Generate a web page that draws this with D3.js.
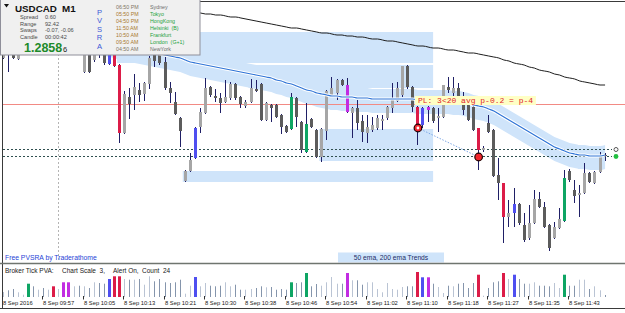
<!DOCTYPE html>
<html>
<head>
<meta charset="utf-8">
<script src="https://cdn.jsdelivr.net/npm/d3@7/dist/d3.min.js"></script>
<style>
html,body{margin:0;padding:0;background:#ffffff;}
svg{display:block;}
text{font-family:"Liberation Sans",Arial,sans-serif;white-space:pre;}
</style>
</head>
<body>
<svg id="chart" width="625" height="313"></svg>
<script>
// ---------------- DATA ----------------
const symbol = "USDCAD";
const timeframe = "M1";
const openP = [
1.28684,1.28702,1.28694,1.28683,1.28697,1.28698,1.28720,1.28712,1.28717,1.28709,
1.28714,1.28697,1.28702,1.28694,1.28689,1.28697,1.28670,1.28690,1.28682,1.28694,
1.28692,1.28678,1.28697,1.28677,1.28609,1.28645,1.28647,1.28652,1.28648,1.28658,
1.28692,1.28690,1.28680,1.28654,1.28640,1.28624,1.28561,1.28571,1.28584,1.28615,
1.28629,1.28655,1.28646,1.28644,1.28640,1.28644,1.28658,1.28645,1.28636,1.28640,
1.28653,1.28658,1.28622,1.28637,1.28637,1.28627,1.28616,1.28613,1.28644,1.28620,
1.28590,1.28623,1.28612,1.28585,1.28611,1.28647,1.28649,1.28662,1.28657,1.28629,
1.28634,1.28621,1.28609,1.28612,1.28614,1.28621,1.28624,1.28634,1.28641,1.28647,
1.28676,1.28655,1.28635,1.28617,1.28635,1.28634,1.28624,1.28625,1.28655,1.28649,
1.28654,1.28645,1.28640,1.28635,1.28614,1.28592,1.28619,1.28612,1.28567,1.28559,
1.28525,1.28529,1.28538,1.28517,1.28504,1.28519,1.28543,1.28535,1.28517,1.28504,
1.28514,1.28521,1.28571,1.28552,1.28547,1.28549,1.28569,1.28559,1.28570,1.28587];
const highP = [
1.28706,1.28707,1.28698,1.28702,1.28709,1.28724,1.28722,1.28720,1.28720,1.28717,
1.28716,1.28705,1.28704,1.28697,1.28700,1.28699,1.28694,1.28694,1.28697,1.28698,
1.28696,1.28700,1.28698,1.28678,1.28651,1.28654,1.28668,1.28659,1.28660,1.28686,
1.28695,1.28692,1.28685,1.28660,1.28650,1.28625,1.28572,1.28589,1.28615,1.28634,
1.28664,1.28656,1.28653,1.28649,1.28662,1.28660,1.28659,1.28646,1.28642,1.28663,
1.28662,1.28659,1.28640,1.28638,1.28638,1.28628,1.28617,1.28649,1.28645,1.28621,
1.28639,1.28624,1.28613,1.28614,1.28652,1.28665,1.28663,1.28663,1.28664,1.28635,
1.28642,1.28627,1.28627,1.28625,1.28627,1.28627,1.28636,1.28659,1.28660,1.28676,
1.28677,1.28656,1.28636,1.28635,1.28636,1.28635,1.28634,1.28657,1.28665,1.28665,
1.28659,1.28650,1.28644,1.28640,1.28614,1.28596,1.28627,1.28613,1.28584,1.28559,
1.28542,1.28554,1.28539,1.28529,1.28537,1.28552,1.28550,1.28540,1.28518,1.28520,
1.28534,1.28572,1.28573,1.28562,1.28557,1.28579,1.28570,1.28571,1.28590,1.28589];
const lowP = [
1.28683,1.28670,1.28683,1.28682,1.28694,1.28696,1.28709,1.28708,1.28706,1.28706,
1.28694,1.28694,1.28690,1.28688,1.28688,1.28689,1.28669,1.28669,1.28680,1.28684,
1.28677,1.28677,1.28675,1.28599,1.28608,1.28623,1.28632,1.28640,1.28641,1.28653,
1.28675,1.28677,1.28652,1.28639,1.28627,1.28595,1.28560,1.28570,1.28583,1.28609,
1.28628,1.28645,1.28640,1.28629,1.28639,1.28642,1.28642,1.28634,1.28634,1.28639,
1.28650,1.28621,1.28621,1.28620,1.28624,1.28608,1.28609,1.28612,1.28615,1.28589,
1.28589,1.28614,1.28584,1.28580,1.28602,1.28646,1.28642,1.28656,1.28629,1.28604,
1.28612,1.28600,1.28599,1.28610,1.28612,1.28612,1.28622,1.28629,1.28640,1.28645,
1.28653,1.28630,1.28597,1.28614,1.28620,1.28619,1.28610,1.28624,1.28649,1.28645,
1.28642,1.28627,1.28621,1.28611,1.28572,1.28590,1.28609,1.28565,1.28542,1.28499,
1.28515,1.28515,1.28517,1.28500,1.28502,1.28518,1.28534,1.28514,1.28491,1.28503,
1.28513,1.28520,1.28560,1.28539,1.28525,1.28548,1.28559,1.28558,1.28569,1.28581];
const closeP = [
1.28702,1.28692,1.28684,1.28697,1.28704,1.28720,1.28712,1.28717,1.28709,1.28714,
1.28697,1.28702,1.28692,1.28689,1.28697,1.28692,1.28690,1.28670,1.28692,1.28687,
1.28679,1.28697,1.28676,1.28609,1.28648,1.28638,1.28655,1.28647,1.28659,1.28684,
1.28681,1.28679,1.28654,1.28649,1.28628,1.28611,1.28571,1.28582,1.28614,1.28630,
1.28654,1.28647,1.28644,1.28639,1.28645,1.28658,1.28644,1.28638,1.28640,1.28654,
1.28651,1.28622,1.28639,1.28634,1.28625,1.28615,1.28610,1.28645,1.28625,1.28592,
1.28618,1.28615,1.28585,1.28613,1.28651,1.28654,1.28662,1.28657,1.28630,1.28634,
1.28619,1.28610,1.28615,1.28617,1.28624,1.28623,1.28635,1.28644,1.28654,1.28676,
1.28655,1.28635,1.28614,1.28634,1.28632,1.28621,1.28626,1.28657,1.28652,1.28654,
1.28644,1.28632,1.28622,1.28612,1.28592,1.28594,1.28610,1.28566,1.28559,1.28525,
1.28529,1.28538,1.28519,1.28502,1.28519,1.28543,1.28535,1.28515,1.28494,1.28515,
1.28523,1.28564,1.28562,1.28546,1.28549,1.28569,1.28560,1.28570,1.28586,1.28586];
const tickVolume = [
50,67,80,47,23,133,107,73,90,73,
107,80,147,147,107,113,107,90,147,140,
133,180,207,207,180,173,173,180,123,207,
157,180,147,140,147,173,33,113,200,107,
140,113,107,113,147,107,123,73,73,80,
90,107,97,100,73,80,73,147,140,147,
240,107,130,113,147,200,133,133,240,167,
167,123,147,147,80,47,140,80,73,100,
107,107,250,197,197,133,100,40,113,107,
133,140,90,140,223,13,90,147,157,240,
180,223,180,133,133,147,113,113,107,140,
90,223,113,113,173,173,80,107,67,20];
const ema50 = [
1.28714,1.28713,1.28713,1.28712,1.28712,1.28711,1.28711,1.28710,1.28710,1.28709,
1.28708,1.28708,1.28707,1.28706,1.28706,1.28705,1.28704,1.28703,1.28702,1.28701,
1.28700,1.28699,1.28698,1.28696,1.28695,1.28694,1.28693,1.28692,1.28691,1.28690,
1.28689,1.28688,1.28687,1.28686,1.28685,1.28684,1.28682,1.28680,1.28679,1.28678,
1.28677,1.28676,1.28675,1.28674,1.28673,1.28672,1.28671,1.28670,1.28669,1.28668,
1.28667,1.28666,1.28665,1.28664,1.28662,1.28661,1.28659,1.28658,1.28656,1.28654,
1.28652,1.28651,1.28649,1.28648,1.28647,1.28646,1.28646,1.28645,1.28645,1.28645,
1.28644,1.28644,1.28644,1.28643,1.28643,1.28643,1.28643,1.28643,1.28643,1.28643,
1.28643,1.28643,1.28642,1.28642,1.28642,1.28642,1.28642,1.28642,1.28642,1.28641,
1.28641,1.28640,1.28639,1.28637,1.28636,1.28635,1.28633,1.28631,1.28628,1.28625,
1.28622,1.28619,1.28616,1.28613,1.28610,1.28607,1.28604,1.28601,1.28598,1.28595,
1.28593,1.28591,1.28589,1.28588,1.28587,1.28587,1.28586,1.28586,1.28586,1.28587];
const ema200 = [
1.28740,1.28740,1.28739,1.28739,1.28739,1.28738,1.28738,1.28738,1.28737,1.28737,
1.28737,1.28736,1.28736,1.28736,1.28735,1.28735,1.28735,1.28734,1.28734,1.28734,
1.28733,1.28733,1.28733,1.28733,1.28732,1.28732,1.28732,1.28732,1.28731,1.28731,
1.28731,1.28731,1.28730,1.28730,1.28730,1.28730,1.28729,1.28729,1.28729,1.28729,
1.28728,1.28728,1.28727,1.28727,1.28726,1.28725,1.28725,1.28724,1.28723,1.28722,
1.28721,1.28720,1.28719,1.28718,1.28717,1.28716,1.28715,1.28714,1.28714,1.28713,
1.28712,1.28711,1.28710,1.28709,1.28709,1.28708,1.28707,1.28707,1.28706,1.28706,
1.28705,1.28705,1.28704,1.28703,1.28703,1.28702,1.28701,1.28701,1.28700,1.28699,
1.28698,1.28697,1.28696,1.28696,1.28695,1.28694,1.28694,1.28693,1.28692,1.28692,
1.28691,1.28690,1.28689,1.28689,1.28688,1.28687,1.28686,1.28685,1.28684,1.28682,
1.28681,1.28679,1.28678,1.28677,1.28675,1.28674,1.28672,1.28671,1.28670,1.28668,
1.28667,1.28665,1.28664,1.28663,1.28661,1.28660,1.28659,1.28658,1.28657,1.28657];
const climaxBars = [5,10,22,23,57,60,82,94,99,111];
const risingBars = [12,13,21,38,68,83,84,101];
const zoneStartBar = [23,49,63,36];
const zoneEndBar = [85,85,85,85];
const zoneHigh = [1.28710,1.28677,1.28613,1.28571];
const zoneLow  = [1.28679,1.28654,1.28581,1.28560];
const bandAbove = 0.00010;
const bandBelow = 0.00014;
const levelPrice = 1.28638;
const askPrice = 1.28593;
const bidPrice = 1.28586;
const separatorBar = 11;
const plBars = [82,94];
const plPrices = [1.28614,1.28585];
const plText = "PL: 3<20 avg p-0.2 = p-4";
const tickBars = [0,8,16,24,32,40,48,56,64,72,80,88,96,104,112];
const tickLabels = ["8 Sep 2016","8 Sep 09:57","8 Sep 10:05","8 Sep 10:13","8 Sep 10:21","8 Sep 10:30","8 Sep 10:38","8 Sep 10:46","8 Sep 10:54","8 Sep 11:02","8 Sep 11:10","8 Sep 11:18","8 Sep 11:27","8 Sep 11:35","8 Sep 11:43"];
const infoLabels = ["Spread","Range","Swaps","Candle"];
const infoValues = ["0.60","92.42","-0.07, -0.06","00:00:42"];
const sessionTimes = ["06:50 PM","05:50 PM","04:50 PM","11:50 AM","10:50 AM","09:50 AM","04:50 AM"];
const sessionCities = ["Sydney","Tokyo","HongKong","Helsinki  (B)","Frankfurt","London  (G+1)","NewYork"];
const sessionOpen = [false,true,true,true,true,true,false];
const bidMain = "1.2858";
const bidLast = "6";
const pvaTitle = ["Broker Tick PVA:","Chart Scale  3,","Alert On,","Count","24"];

// ---------------- DRAW ----------------
const N = openP.length;
const svg = d3.select("#chart");
svg.append("rect").attr("width",625).attr("height",313).attr("fill","#ffffff");

const x = d3.scaleBand().domain(d3.range(N)).range([0.67, 607.6]).padding(0);
const cx = i => x(i) + x.bandwidth()/2;
const px = i => Math.floor(cx(i));
const y = d3.scaleLinear().domain([1.28480, 1.28740]).range([262, 2]);
const yv = d3.scaleLinear().domain([0, 260]).range([297, 271]);

const defs = svg.append("defs");
defs.append("clipPath").attr("id","clipMain").append("rect").attr("x",3).attr("y",2).attr("width",622).attr("height",260);
const main = svg.append("g").attr("clip-path","url(#clipMain)");

const zoneFill = "#cfe4fa";
const band = d3.area().x((d,i)=>cx(i)).y0(d=>y(d - bandBelow)).y1(d=>y(d + bandAbove)).curve(d3.curveMonotoneX);
main.append("path").datum(ema50).attr("d",band).attr("fill",zoneFill);
main.selectAll("rect.zone").data(zoneStartBar).join("rect").attr("class","zone")
  .attr("x",(d)=>x(d)).attr("width",(d,i)=>cx(zoneEndBar[i]) - x(d))
  .attr("y",(d,i)=>y(zoneHigh[i])).attr("height",(d,i)=>y(zoneLow[i]) - y(zoneHigh[i]))
  .attr("fill",zoneFill);

main.append("line").attr("x1",px(separatorBar)+0.5).attr("x2",px(separatorBar)+0.5).attr("y1",2).attr("y2",262)
  .attr("stroke","#b4b4b4").attr("stroke-dasharray","2,2");
main.append("line").attr("x1",3).attr("x2",625).attr("y1",Math.round(y(levelPrice))+0.5).attr("y2",Math.round(y(levelPrice))+0.5)
  .attr("stroke","#f28a84").attr("stroke-width",1);
[askPrice,bidPrice].forEach(p=>{
  const yy = Math.round(y(p))+0.5;
  main.append("line").attr("x1",3).attr("x2",612).attr("y1",yy).attr("y2",yy)
    .attr("stroke","#2f4f4f").attr("stroke-dasharray","2,2");
});

function bodyColor(i){
  const bull = closeP[i] >= openP[i];
  if (climaxBars.includes(i)) return bull ? "#0ea564" : "#dc1c48";
  if (risingBars.includes(i)) return bull ? "#4f4ff0" : "#c22ce2";
  return bull ? "#a6a6a6" : "#5c5c5c";
}
const cg = main.append("g");
d3.range(N).forEach(i=>{
  const xx = px(i);
  cg.append("line").attr("x1",xx+0.5).attr("x2",xx+0.5).attr("y1",y(highP[i])).attr("y2",y(lowP[i]))
    .attr("stroke","#1f1f66").attr("stroke-width",1);
  const top = Math.min(y(openP[i]), y(closeP[i]));
  const h = Math.max(1, Math.abs(y(openP[i]) - y(closeP[i])));
  cg.append("rect").attr("x",xx-1).attr("width",3).attr("y",top).attr("height",h).attr("fill",bodyColor(i));
});

const lineGen = d3.line().x((d,i)=>cx(i)).y(d=>y(d)).curve(d3.curveMonotoneX);
main.append("path").datum(ema200).attr("d",lineGen).attr("fill","none").attr("stroke","#1e1e1e").attr("stroke-width",1);
main.append("path").datum(ema50).attr("d",lineGen).attr("fill","none").attr("stroke","#ffffff").attr("stroke-width",3.2);
main.append("path").datum(ema50).attr("d",lineGen).attr("fill","none").attr("stroke","#2f74d6").attr("stroke-width",1.2);

main.append("line").attr("x1",cx(plBars[0])).attr("y1",y(plPrices[0])).attr("x2",cx(plBars[1])).attr("y2",y(plPrices[1]))
  .attr("stroke","#7fa8e6").attr("stroke-dasharray","1.5,1.5");
plBars.forEach((b,k)=>{
  main.append("circle").attr("cx",cx(b)).attr("cy",y(plPrices[k])).attr("r",3.8)
    .attr("fill","#f2262e").attr("stroke","#200000").attr("stroke-width",1.2);
  if (k===0) main.append("circle").attr("cx",cx(b)).attr("cy",y(plPrices[k])).attr("r",1.4).attr("fill","#ffffff");
});
const lx = x(plBars[0]) - 0.5;
main.append("rect").attr("x",lx).attr("y",y(levelPrice)-8).attr("width",121).attr("height",9).attr("fill","#ffffc4");
main.append("text").attr("x",lx+3).attr("y",y(levelPrice)-0.8).text(plText)
  .attr("fill","#e0242c").attr("font-size","8px").style("font-family","'Liberation Mono','DejaVu Sans Mono',monospace");

svg.append("circle").attr("cx",616).attr("cy",Math.round(y(askPrice))+0.5).attr("r",2).attr("fill","#ffffff").attr("stroke","#555").attr("stroke-width",1);
svg.append("circle").attr("cx",616).attr("cy",Math.round(y(bidPrice))+0.5).attr("r",2.4).attr("fill","#22c040");

svg.append("text").attr("x",5).attr("y",259.5).text("Free PVSRA by Traderathome").attr("font-size","6.8px").attr("fill","#1f3fd6");
svg.append("rect").attr("x",338).attr("y",252.5).attr("width",106).attr("height",10).attr("fill",zoneFill);
svg.append("text").attr("x",391).attr("y",260).attr("text-anchor","middle").text("50 ema, 200 ema Trends").attr("font-size","6.7px").attr("fill","#1c2c66");

svg.append("line").attr("x1",0).attr("x2",625).attr("y1",1.5).attr("y2",1.5).attr("stroke","#3a3a3a");
svg.append("line").attr("x1",2.5).attr("x2",2.5).attr("y1",0).attr("y2",309).attr("stroke","#3a3a3a");
svg.append("line").attr("x1",0).attr("x2",625).attr("y1",263.5).attr("y2",263.5).attr("stroke","#6f756f").attr("stroke-width",1.5);
svg.append("line").attr("x1",0).attr("x2",625).attr("y1",308.5).attr("y2",308.5).attr("stroke","#3a3a3a");

const vg = svg.append("g");
d3.range(N).forEach(i=>{
  const xx = px(i);
  const special = climaxBars.includes(i) || risingBars.includes(i);
  const bull = closeP[i] >= openP[i];
  const col = special ? bodyColor(i) : (bull ? "#bac4d4" : "#8595ac");
  vg.append("rect").attr("x", special ? xx-1 : xx).attr("width", special ? 3 : 1)
    .attr("y", yv(tickVolume[i])).attr("height", yv(0) - yv(tickVolume[i])).attr("fill", col);
});
const pvaX = [5,62,113,142,163];
pvaTitle.forEach((t,k)=>{
  vg.append("text").attr("x",pvaX[k]).attr("y",272.5).text(t).attr("font-size","6.5px").attr("fill","#202020");
});

const ag = svg.append("g");
tickBars.forEach((b,k)=>{
  const xx = px(b);
  ag.append("line").attr("x1",xx-0.5).attr("x2",xx-0.5).attr("y1",296).attr("y2",299.5).attr("stroke","#303030");
  ag.append("text").attr("x",xx).attr("y",304.5).text(tickLabels[k]).attr("font-size","5.8px").attr("fill","#202020");
});

const ip = svg.append("g");
ip.append("rect").attr("x",0.5).attr("y",-1).attr("width",199.5).attr("height",56).attr("fill","#f0f0f0").attr("stroke","#8f8f9a");
ip.append("path").attr("d","M4,4 L9,4 L6.5,7.5 Z").attr("fill","#111");
ip.append("text").attr("x",15).attr("y",11.8).text(symbol).attr("font-size","9.8px").attr("font-weight","bold").attr("fill","#111");
ip.append("text").attr("x",62).attr("y",11.8).text(timeframe).attr("font-size","9.8px").attr("font-weight","bold").attr("fill","#111");
infoLabels.forEach((t,k)=>{
  const yy = 19 + k*6.6;
  ip.append("text").attr("x",20).attr("y",yy).text(t).attr("font-size","5.6px").attr("fill","#4a4a4a");
  ip.append("text").attr("x",45).attr("y",yy).text(infoValues[k]).attr("font-size","5.6px").attr("fill","#4a4a4a");
});
ip.append("text").attr("x",24).attr("y",51.5).text(bidMain).attr("font-size","12.5px").attr("font-weight","bold").attr("fill","#1d8a2a");
ip.append("text").attr("x",63).attr("y",51.5).text(bidLast).attr("font-size","7.5px").attr("fill","#222");
["P","V","S","R","A"].forEach((ch,k)=>{
  ip.append("text").attr("x",99.5).attr("y",14.5+k*8.5).attr("text-anchor","middle").text(ch).attr("font-size","7.6px").attr("fill","#3d5ad8");
});
sessionTimes.forEach((t,k)=>{
  const yy = 9 + k*7.05;
  ip.append("text").attr("x",116).attr("y",yy).text(t).attr("font-size","5.3px").attr("fill", (k===0||k===6) ? "#7f7564" : "#a8782e");
  ip.append("text").attr("x",150).attr("y",yy).text(sessionCities[k]).attr("font-size","5.3px").attr("fill", sessionOpen[k] ? "#1ea23c" : "#6e6e6e");
});
</script>
</body>
</html>
